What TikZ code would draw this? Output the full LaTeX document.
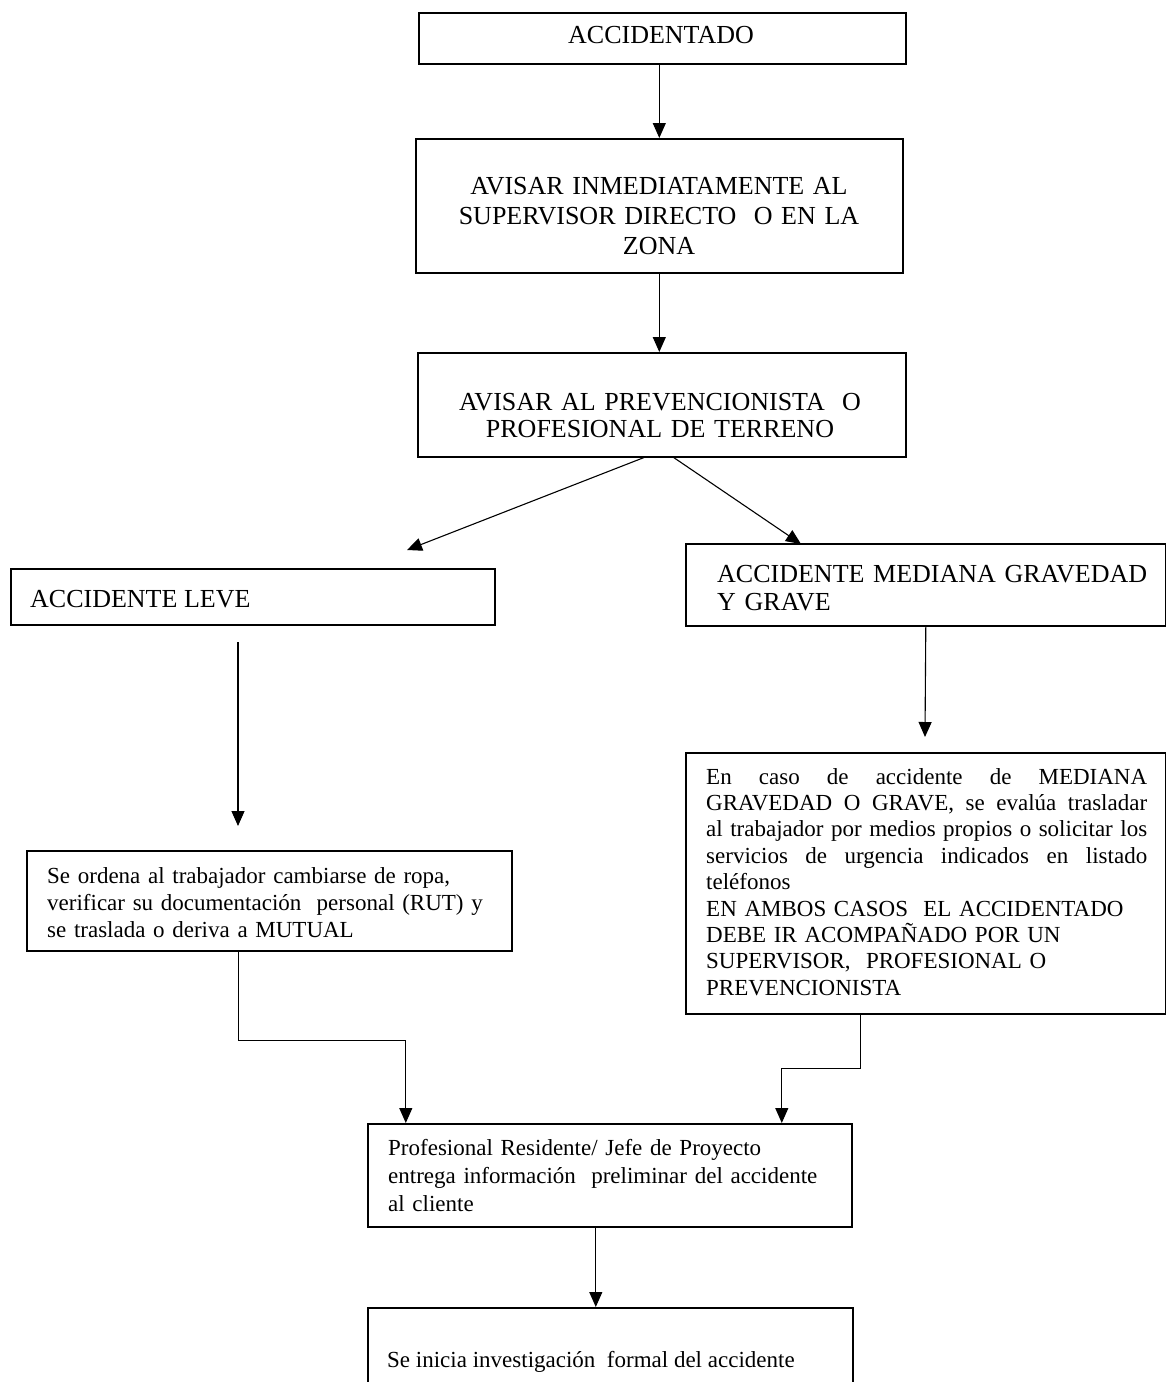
\documentclass[tikz,border=0pt]{standalone}
\usepackage{fontspec}
\setmainfont{Liberation Serif}
\usetikzlibrary{arrows.meta}
\newcommand\myjline[1]{\leavevmode\hbox to 441pt{\spaceskip=.25em plus 1fil\relax #1}}
\begin{document}
\begin{tikzpicture}[x=1pt,y=-1pt,
  box/.style={draw, line width=1.6pt, inner sep=0pt, anchor=north west},
  bigtxt/.style={inner sep=0pt, anchor=base, text width=480pt, align=center},
  lefttxt/.style={inner sep=0pt, anchor=base west, align=left},
  conn/.style={line width=1.1pt, -{Triangle[length=15pt,width=13pt]}},
]
\useasboundingbox (0,0) rectangle (1166,1382);
\clip (0,0) rectangle (1166,1382);

% boxes
\node[box, minimum width=487pt, minimum height=51pt]  (A) at (418,12) {};
\node[box, minimum width=487pt, minimum height=134pt] (B) at (415,138) {};
\node[box, minimum width=488pt, minimum height=104pt] (C) at (417,352) {};
\node[box, minimum width=484pt, minimum height=56pt]  (D) at (10,568) {};
\node[box, minimum width=480pt, minimum height=82pt]  (E) at (685,543) {};
\node[box, minimum width=485pt, minimum height=100pt] (F) at (26,850) {};
\node[box, minimum width=480pt, minimum height=261pt] (G) at (685,752) {};
\node[box, minimum width=484pt, minimum height=103pt] (H) at (367,1123) {};
\node[box, minimum width=485pt, minimum height=130pt] (I) at (367,1307) {};

% texts
\node[bigtxt, font=\fontsize{26}{30}\selectfont] (tA) at (661,43) {ACCIDENTADO};
\node[bigtxt, font=\fontsize{26}{30}\selectfont] (tB) at (659,194)
  {AVISAR INMEDIATAMENTE AL\\SUPERVISOR DIRECTO\ \ O EN LA\\ZONA};
\node[bigtxt, font=\fontsize{26}{27.5}\selectfont] (tC) at (660,410)
  {AVISAR AL PREVENCIONISTA\ \ O\\PROFESIONAL DE TERRENO};
\node[lefttxt, font=\fontsize{26}{28}\selectfont] (tD) at (30,607) {ACCIDENTE LEVE};
\node[lefttxt, text width=440pt, font=\fontsize{26}{28}\selectfont] (tE) at (717,582)
  {ACCIDENTE MEDIANA GRAVEDAD\\Y GRAVE};
\node[lefttxt, text width=460pt, font=\fontsize{23}{27}\selectfont] (tF) at (47,883)
  {Se ordena al trabajador cambiarse de ropa,\\verificar su documentación\ \ personal (RUT) y\\se traslada o deriva a MUTUAL};
\node[lefttxt, text width=441pt, font=\fontsize{23}{26.4}\selectfont] (tG) at (706,784)
  {\myjline{En caso de accidente de MEDIANA}\\
   \myjline{GRAVEDAD O GRAVE, se evalúa trasladar}\\
   \myjline{al trabajador por medios propios o solicitar los}\\
   \myjline{servicios de urgencia indicados en listado}\\
   teléfonos\\
   EN AMBOS CASOS\ \ EL ACCIDENTADO\\
   DEBE IR ACOMPAÑADO POR UN\\
   SUPERVISOR,\ \ PROFESIONAL O\\
   PREVENCIONISTA};
\node[lefttxt, text width=460pt, font=\fontsize{23}{28}\selectfont] (tH) at (388,1155)
  {Profesional Residente/ Jefe de Proyecto\\entrega información\ \ preliminar del accidente\\al cliente};
\node[lefttxt, font=\fontsize{23}{28}\selectfont] (tI) at (387,1367)
  {Se inicia investigación\ \ formal del accidente};

% free ends
\coordinate (dL) at (407,550);
\coordinate (dR) at (801,544);
\coordinate (d1) at (238,642);
\coordinate (d2) at (238,826);
\coordinate (gT) at (925,737);

% connectors
\draw[conn] (A.south -| B.north) -- (B.north);
\draw[conn] (B.south) -- (B.south |- C.north);
\draw[conn] ([xshift=-18pt]C.south) -- (dL);
\draw[conn] ([xshift=12pt]C.south) -- (dR);
\draw[conn] (d1) -- (d2);
\draw[conn] (E.south) -- (gT);
\draw[conn] ([xshift=-30.5pt]F.south) -- ++(0,89) -| ([xshift=-204pt]H.north);
\draw[conn] ([xshift=-65pt]G.south) -- ++(0,54) -| ([xshift=172pt]H.north);
\draw[conn] ([xshift=-14pt]H.south) -- ([xshift=-14pt]H.south |- I.north);
\end{tikzpicture}
\end{document}
